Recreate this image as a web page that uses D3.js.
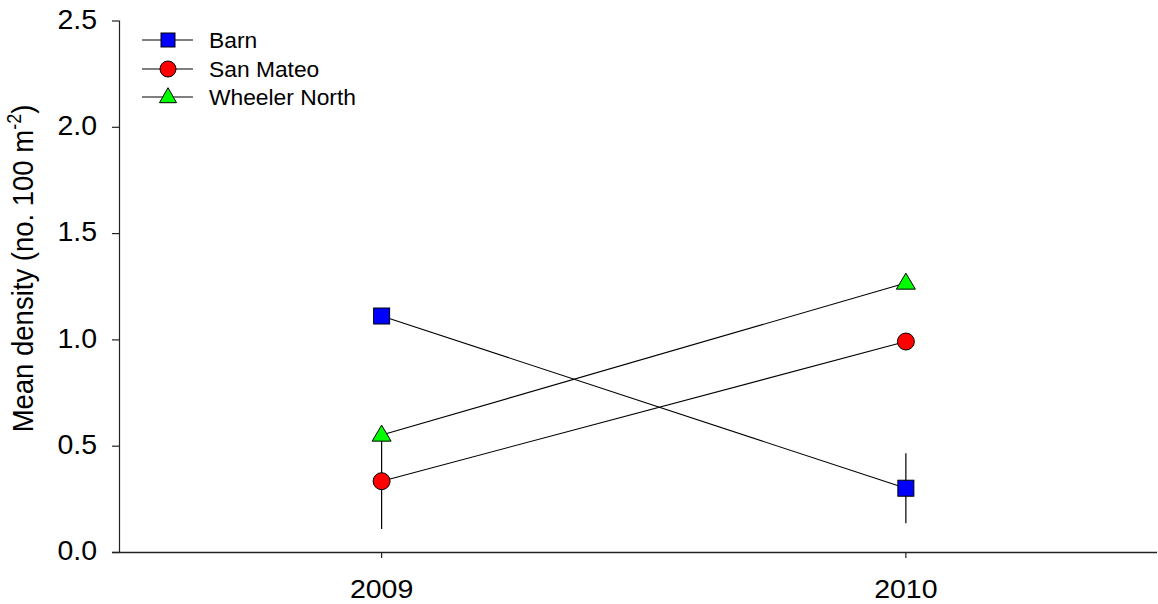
<!DOCTYPE html>
<html>
<head>
<meta charset="utf-8">
<script src="https://cdn.jsdelivr.net/npm/d3@7"></script>
<style>
  html, body { margin: 0; padding: 0; background: #fff; }
  svg { display: block; font-family: "Liberation Sans", Arial, sans-serif; }
</style>
</head>
<body>
<svg id="chart" width="1158" height="604"></svg>
<script>
// Survey years and per-site mean densities (no. per 100 m²) with standard errors
const years = [2009, 2010];
const sites = ["Barn", "San Mateo", "Wheeler North"];
const barnMean = [1.11, 0.30];
const barnSE = [0, 0.165];
const sanMateoMean = [0.333, 0.99];
const sanMateoSE = [0.225, 0];
const wheelerMean = [0.55, 1.265];
const wheelerSE = [0, 0];
const yTicks = [0.0, 0.5, 1.0, 1.5, 2.0, 2.5];

const series = [
  { name: sites[0], mean: barnMean, se: barnSE, shape: "square", fill: "#0000ff" },
  { name: sites[1], mean: sanMateoMean, se: sanMateoSE, shape: "circle", fill: "#ff0000" },
  { name: sites[2], mean: wheelerMean, se: wheelerSE, shape: "triangle", fill: "#00ff00" }
];

const svg = d3.select("#chart");
const plotLeft = 119, plotRight = 1157, plotTop = 20.5, plotBottom = 552;

const x = d3.scaleLinear().domain([2008.5, 2010.48]).range([plotLeft, plotRight]);
const y = d3.scaleLinear().domain([0, 2.5]).range([plotBottom, plotTop]);

// Y axis
const yAxis = svg.append("g")
  .attr("transform", `translate(${plotLeft},0)`)
  .call(d3.axisLeft(y).tickValues(yTicks).tickFormat(d3.format(".1f")).tickSize(7).tickPadding(15));
yAxis.select(".domain").attr("stroke", "#222").attr("stroke-width", 1.2)
  .attr("d", `M0.5,${plotTop}V${plotBottom}`);
yAxis.selectAll(".tick line").attr("stroke", "#222").attr("stroke-width", 1.2);
yAxis.selectAll(".tick text").attr("font-size", 28.5).attr("fill", "#000").attr("dy", "0.27em")
  .attr("font-family", "'Liberation Sans', Arial, sans-serif");

// X axis
const xAxis = svg.append("g")
  .attr("transform", `translate(0,${plotBottom})`)
  .call(d3.axisBottom(x).tickValues(years).tickFormat(d3.format("d")).tickSize(6));
xAxis.select(".domain").attr("stroke", "#222").attr("stroke-width", 1.4)
  .attr("d", `M${plotLeft - 7},0.5H${plotRight}`);
xAxis.selectAll(".tick line").attr("stroke", "#222").attr("stroke-width", 1.2);
xAxis.selectAll(".tick text").attr("font-size", 25).attr("fill", "#000")
  .attr("y", 46).attr("dy", 0).attr("transform", "scale(1.14,1)")
  .attr("font-family", "'Liberation Sans', Arial, sans-serif");

// Y axis title with superscript exponent
const title = svg.append("text")
  .attr("transform", `translate(33,${(104 + 433) / 2}) rotate(-90) scale(1,1.08)`)
  .attr("text-anchor", "middle")
  .attr("font-size", 27.5)
  .attr("fill", "#000");
title.append("tspan").text("Mean density (no. 100 m");
title.append("tspan").attr("font-size", 18).attr("dy", -11).text("-2");
title.append("tspan").attr("dy", 11).text(")");

// Marker symbols
function marker(g, shape, fill, size) {
  if (shape === "square") {
    g.append("rect").attr("x", -size.sq / 2).attr("y", -size.sq / 2)
      .attr("width", size.sq).attr("height", size.sq)
      .attr("fill", fill).attr("stroke", "#000").attr("stroke-width", 1);
  } else if (shape === "circle") {
    g.append("circle").attr("r", size.r)
      .attr("fill", fill).attr("stroke", "#000").attr("stroke-width", 1);
  } else {
    const w = size.tw / 2, h = size.th;
    g.append("path").attr("d", `M0,${-h * 0.62}L${w},${h * 0.38}L${-w},${h * 0.38}Z`)
      .attr("fill", fill).attr("stroke", "#000").attr("stroke-width", 1);
  }
}

const plotSize = { sq: 16, r: 8.5, tw: 19, th: 16 };
const legendSize = { sq: 14, r: 8, tw: 17, th: 15 };

const line = d3.line().x((d, i) => x(years[i]) + 0.5).y(d => y(d));

// Error bars and connecting lines beneath the markers
series.forEach(s => {
  svg.append("g").selectAll("line")
    .data(years.map((yr, i) => ({ yr, m: s.mean[i], e: s.se[i] })).filter(d => d.e > 0))
    .join("line")
    .attr("x1", d => x(d.yr) + 0.5).attr("x2", d => x(d.yr) + 0.5)
    .attr("y1", d => y(d.m - d.e)).attr("y2", d => y(d.m + d.e))
    .attr("stroke", "#000").attr("stroke-width", 1.2);
  svg.append("path").datum(s.mean)
    .attr("d", line).attr("fill", "none").attr("stroke", "#000").attr("stroke-width", 1.1);
});

series.forEach(s => {
  s.mean.forEach((m, i) => {
    const g = svg.append("g").attr("transform", `translate(${x(years[i]) + 0.5},${y(m)})`);
    marker(g, s.shape, s.fill, plotSize);
  });
});

// Legend
const legendRows = [40, 69, 97];
series.forEach((s, i) => {
  const g = svg.append("g").attr("transform", `translate(0,${legendRows[i]})`);
  g.append("line").attr("x1", 142).attr("x2", 193).attr("y1", 0).attr("y2", 0)
    .attr("stroke", "#000").attr("stroke-width", 1);
  const mg = g.append("g").attr("transform", "translate(168,0)");
  marker(mg, s.shape, s.fill, legendSize);
  g.append("text").attr("x", 209).attr("y", 8).attr("font-size", 22.8).attr("fill", "#000").text(s.name);
});
</script>
</body>
</html>
